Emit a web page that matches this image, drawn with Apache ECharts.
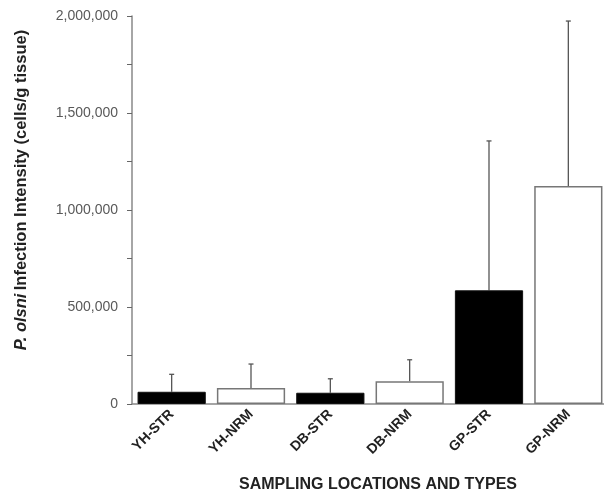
<!DOCTYPE html>
<html><head><meta charset="utf-8">
<script src="https://cdn.jsdelivr.net/npm/echarts@6/dist/echarts.min.js"></script>
<style>html,body{margin:0;padding:0;background:#fff}#c{width:604px;height:493px}</style>
</head><body><div id="c"></div>
<script>
var categories = ['YH-STR','YH-NRM','DB-STR','DB-NRM','GP-STR','GP-NRM'];
var means = [63000, 82000, 58000, 117000, 586000, 1124000];
var upperErr = [153000, 206000, 130000, 228000, 1356000, 1974000];
var isStrand = [true, false, true, false, true, false];
var yTicks = [0, 500000, 1000000, 1500000, 2000000];

var chart = echarts.init(document.getElementById('c'));
var barData = means.map(function(v,i){
  return {value:v, itemStyle: isStrand[i] ? {color:'#000', borderColor:'#111', borderWidth:1} : {color:'#fff', borderColor:'#777', borderWidth:1.5}};
});
var errData = means.map(function(v,i){ return [i, v, upperErr[i]]; });
chart.setOption({
  animation:false,
  grid:{left:132, top:16, width:476, height:388, outerBoundsMode:'none', containLabel:false},
  xAxis:{type:'category', data:categories,
    axisLine:{lineStyle:{color:'#888', width:1.5}},
    axisTick:{length:5, lineStyle:{color:'#555'}},
    axisLabel:{rotate:45, fontFamily:'Liberation Sans', fontWeight:'bold', fontSize:14, color:'#222', margin:8},
    name:'SAMPLING LOCATIONS AND TYPES', nameLocation:'middle', nameGap:73,
    nameTextStyle:{fontFamily:'Liberation Sans', fontWeight:'bold', fontSize:16, color:'#222', padding:[0,0,0,16]}
  },
  yAxis:{type:'value', min:0, max:2000000, interval:250000,
    axisLine:{show:true, lineStyle:{color:'#888', width:1.5}},
    axisTick:{show:true, length:5, lineStyle:{color:'#666'}},
    splitLine:{show:false},
    axisLabel:{fontFamily:'Liberation Sans', fontSize:14, color:'#595959', margin:14,
      formatter:function(v){ return yTicks.indexOf(v)>=0 ? v.toLocaleString('en-US') : ''; }},
    name:'{i|P. olsni} {b|Infection Intensity (cells/g tissue)}', nameLocation:'middle', nameGap:102,
    nameTextStyle:{padding:[0,0,0,40], rich:{i:{fontFamily:'Liberation Sans', fontWeight:'bold', fontStyle:'italic', fontSize:16.5, color:'#222'},
                         b:{fontFamily:'Liberation Sans', fontWeight:'bold', fontSize:16.5, color:'#222'}}}
  },
  series:[
    {type:'bar', data:barData, barCategoryGap:'14%', z:2},
    {type:'custom', data:errData, z:1,
      renderItem:function(params, api){
        var x = api.value(0);
        var p0 = api.coord([x, api.value(1)]);
        var p1 = api.coord([x, api.value(2)]);
        var cap = 2.5;
        return {type:'group', children:[
          {type:'line', shape:{x1:p0[0], y1:p0[1], x2:p1[0], y2:p1[1]}, style:{stroke:'#555', lineWidth:1.3}},
          {type:'line', shape:{x1:p1[0]-cap, y1:p1[1], x2:p1[0]+cap, y2:p1[1]}, style:{stroke:'#555', lineWidth:1.3}}
        ]};
      }}
  ]
});
</script></body></html>
